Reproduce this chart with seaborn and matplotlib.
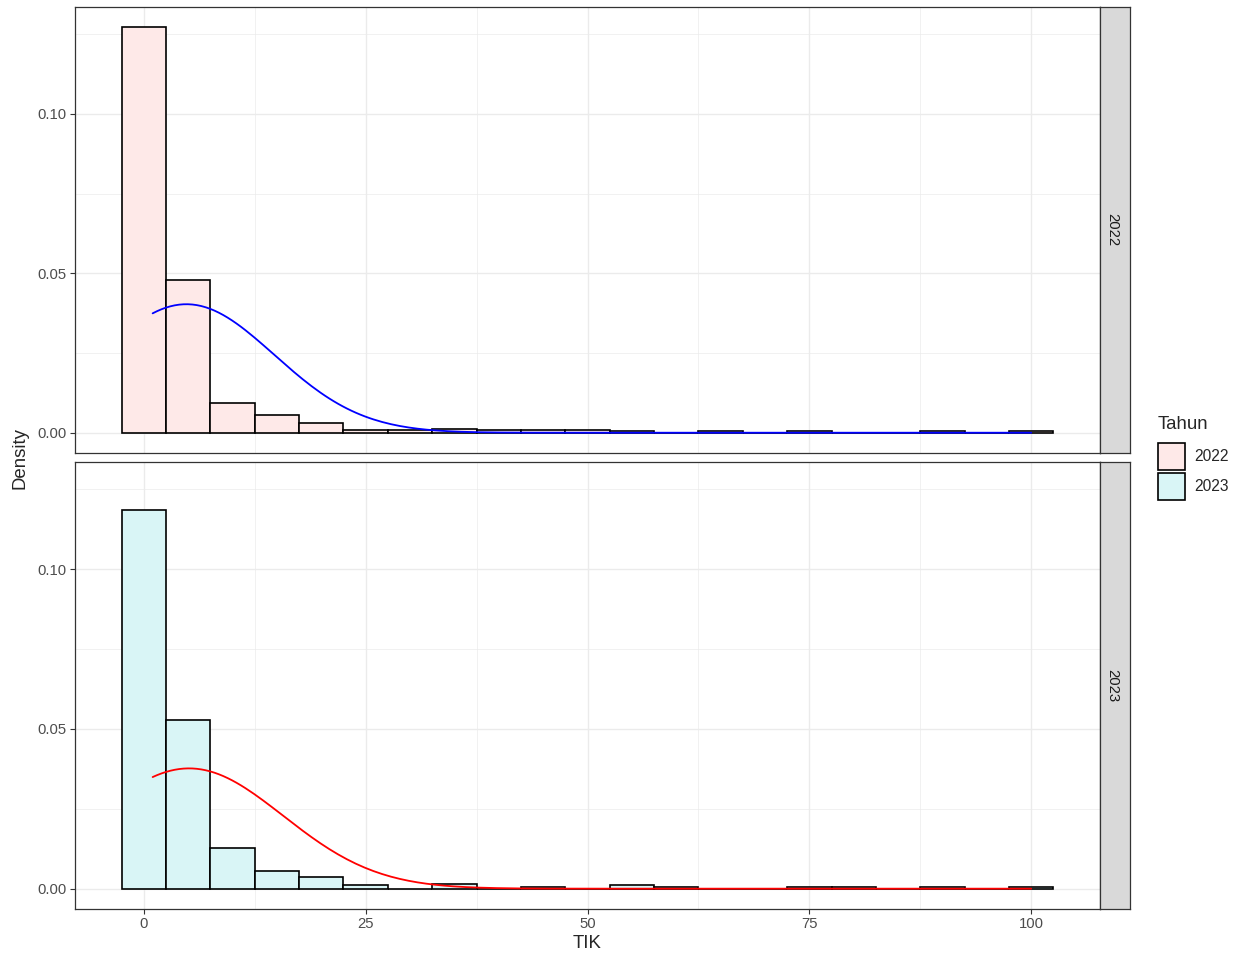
import numpy as np
import pandas as pd
import matplotlib
matplotlib.use("Agg")
import matplotlib.pyplot as plt
import seaborn as sns
from matplotlib.patches import Patch
from matplotlib.ticker import FixedLocator

# bin centres (binwidth 5) and density of each bin
bin_centres = [0, 5, 10, 15, 20, 25, 30, 35, 40, 45, 50, 55, 60, 65, 70, 75, 80, 85, 90, 95, 100]
dens_2022 = [0.1271, 0.0478, 0.00925, 0.0055, 0.0031, 0.0008, 0.0008, 0.0012, 0.0008, 0.0008,
             0.0008, 0.0004, 0.0, 0.0004, 0.0, 0.0004, 0.0, 0.0, 0.0004, 0.0, 0.0004]
dens_2023 = [0.1185, 0.0527, 0.01285, 0.0054, 0.0035, 0.0010, 0.0, 0.0014, 0.0, 0.0006,
             0.0, 0.0010, 0.0004, 0.0, 0.0, 0.0004, 0.0004, 0.0, 0.0004, 0.0, 0.0004]
years = ["2022", "2023"]

# fitted normal curves (mean, sd) and data range
norm_mean = {"2022": 4.8, "2023": 5.1}
norm_sd = {"2022": 9.9, "2023": 10.6}
tik_min, tik_max = 1, 100

fills = {"2022": "#FEE9E8", "2023": "#D9F5F6"}
line_cols = {"2022": "blue", "2023": "red"}

df = pd.DataFrame({
    "TIK": bin_centres * 2,
    "Density": dens_2022 + dens_2023,
    "Tahun": ["2022"] * len(bin_centres) + ["2023"] * len(bin_centres),
})

sns.set_style("white")
plt.rcParams["font.family"] = ["Liberation Sans", "DejaVu Sans"]

W, H = 1245, 961
fig = plt.figure(figsize=(W / 100, H / 100), dpi=100)

left, right = 75 / W, 1100 / W
strip_w = 30 / W
panels = {"2022": (7, 453), "2023": (462, 909)}

tick_fs = 10.7
title_fs = 13.4
grid_col = "#EBEBEB"
dark = "#333333"

for yr in years:
    top, bot = panels[yr]
    ax = fig.add_axes([left, 1 - bot / H, right - left, (bot - top) / H])
    sub = df[df["Tahun"] == yr]
    sns.histplot(data=sub, x="TIK", weights="Density", binwidth=5, binrange=(-2.5, 102.5),
                 stat="count", color=fills[yr], alpha=1, edgecolor="black", linewidth=1.2,
                 ax=ax, zorder=2)
    xs = np.linspace(tik_min, tik_max, 200)
    ys = np.exp(-0.5 * ((xs - norm_mean[yr]) / norm_sd[yr]) ** 2) / (norm_sd[yr] * np.sqrt(2 * np.pi))
    sns.lineplot(x=xs, y=ys, color=line_cols[yr], linewidth=1.3, ax=ax, zorder=3)

    ax.set_xlim(-7.75, 107.75)
    ax.set_ylim(-0.00636, 0.1335)
    ax.xaxis.set_major_locator(FixedLocator([0, 25, 50, 75, 100]))
    ax.xaxis.set_minor_locator(FixedLocator([12.5, 37.5, 62.5, 87.5]))
    ax.yaxis.set_major_locator(FixedLocator([0, 0.05, 0.10]))
    ax.yaxis.set_minor_locator(FixedLocator([0.025, 0.075, 0.125]))
    ax.set_yticklabels(["0.00", "0.05", "0.10"])
    ax.grid(which="major", color=grid_col, linewidth=1.0, zorder=0)
    ax.grid(which="minor", color=grid_col, linewidth=0.5, zorder=0)
    ax.set_axisbelow(True)
    ax.set_xlabel("")
    ax.set_ylabel("")
    for s in ax.spines.values():
        s.set_color(dark)
        s.set_linewidth(0.9)
    ax.tick_params(axis="y", which="major", left=True, length=3.4, width=0.8, color=dark,
                   labelsize=tick_fs, labelcolor="#4D4D4D", pad=2.5)
    ax.tick_params(which="minor", length=0)
    if yr == "2023":
        ax.set_xticklabels(["0", "25", "50", "75", "100"])
        ax.tick_params(axis="x", which="major", bottom=True, length=3.4, width=0.8, color=dark,
                       labelsize=tick_fs, labelcolor="#4D4D4D", pad=2.5)
    else:
        ax.tick_params(axis="x", which="major", bottom=False, labelbottom=False)

    # facet strip on the right
    sax = fig.add_axes([right, 1 - bot / H, strip_w, (bot - top) / H])
    sax.set_facecolor("#D9D9D9")
    sax.set_xticks([])
    sax.set_yticks([])
    for s in sax.spines.values():
        s.set_color(dark)
        s.set_linewidth(0.9)
    sax.text(0.42, 0.5, yr, rotation=270, ha="center", va="center", fontsize=tick_fs,
             color="#1A1A1A", transform=sax.transAxes)

fig.text(587 / W, 1 - 944 / H, "TIK", ha="center", va="center", fontsize=title_fs)
fig.text(20 / W, 1 - 458 / H, "Density", ha="center", va="center", rotation=90, fontsize=title_fs)

handles = [Patch(facecolor=fills[y], edgecolor="black", linewidth=1.2) for y in years]
leg = fig.legend(handles, years, title="Tahun", loc="center left",
                 bbox_to_anchor=(1158 / W, 1 - 458 / H), frameon=False,
                 fontsize=11.2, title_fontsize=title_fs, handlelength=1.75, handleheight=2.3,
                 labelspacing=0.15, handletextpad=0.6, borderaxespad=0, borderpad=0,
                 alignment="left")
leg._legend_box.sep = 7  # a bit more room under the legend title

fig.savefig("out.png", dpi=100)
